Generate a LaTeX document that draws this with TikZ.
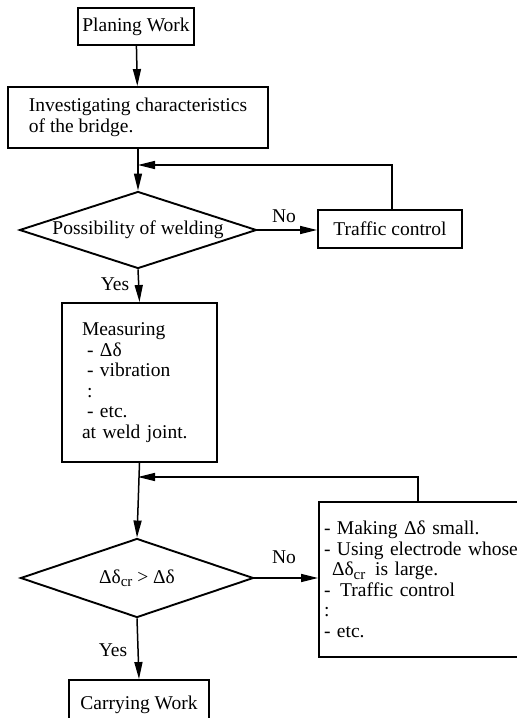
\documentclass[tikz,border=0pt]{standalone}
\usepackage{fontspec}
\setmainfont{Liberation Serif}
\usetikzlibrary{shapes.geometric,arrows.meta}
\newcommand{\dd}{Δδ}
\newcommand{\ddcr}{Δδ\raisebox{-0.35ex}{\fontsize{15}{15}\selectfont cr}}
\begin{document}
\begin{tikzpicture}[x=1pt,y=-1pt,
  font=\fontsize{19.5}{20.5}\selectfont,
  box/.style={draw,line width=1.9pt,rectangle,inner sep=0pt},
  dia/.style={draw,line width=1.9pt,diamond,inner sep=0pt},
  conn/.style={line width=1.5pt},
  arr/.style={conn,-{Stealth[length=17pt,width=8pt,inset=0pt]}},
  lbl/.style={inner sep=1pt}]
\clip (0,0) rectangle (517,718);
\fill[white] (0,0) rectangle (517,718);

\node[box,minimum width=116pt,minimum height=37pt] (plan) at (136,26.5) {Planing Work};
\node[box,minimum width=260pt,minimum height=61pt,align=left] (inv) at (138,117.5)
  {Investigating characteristics\\of the bridge.};
\node[dia,minimum width=237pt,minimum height=77pt] (d1) at (138,230) {};
\node (d1t) at (d1) {Possibility of welding};
\node[box,minimum width=144pt,minimum height=38pt] (tc) at (390,229) {Traffic control};
\node[box,minimum width=155pt,minimum height=159pt,inner xsep=20pt,text width=115pt,align=left] (meas) at (139.5,382.5)
  {Measuring\\\hspace*{5pt}- \dd\\\hspace*{5pt}- vibration\\\hspace*{5pt}:\\\hspace*{5pt}- etc.\\at weld joint.};
\node[dia,minimum width=233pt,minimum height=79pt] (d2) at (137,578) {};
\node (d2t) at (d2) {\ddcr{} > \dd};
\node[box,minimum width=211pt,minimum height=155pt,inner xsep=5pt,text width=201pt,align=left] (rb) at (424.5,579.5)
  {- Making \dd{} small.\\- Using electrode whose\\\hspace*{8pt}\ddcr{}\, is large.\\- \,Traffic control\\:\\- etc.};
\node[box,minimum width=140pt,minimum height=50pt] (cw) at (139,705) {Carrying Work};

\node[lbl] (no1) at (284,216) {No};
\node[lbl] (yes1) at (115,284) {Yes};
\node[lbl] (no2) at (284,557) {No};
\node[lbl] (yes2) at (113,650) {Yes};

\coordinate (j1) at (138,165);
\coordinate (j2) at (138,477);
\coordinate (tcu) at (392,210);
\coordinate (rbu) at (418,502);

\draw[arr] (plan) -- (inv);
\draw[arr] (inv.south) -- (d1.north);
\draw[arr] (tcu) |- (j1);
\draw[arr] (d1.east) -- (tc.west |- d1.east);
\draw[arr] (d1.south) -- (meas.north);
\draw[arr] (meas.south) -- (d2.north);
\draw[arr] (rbu) |- (j2);
\draw[arr] (d2.east) -- (rb.west |- d2.east);
\draw[arr] (d2.south) -- (cw.north);
\end{tikzpicture}
\end{document}
